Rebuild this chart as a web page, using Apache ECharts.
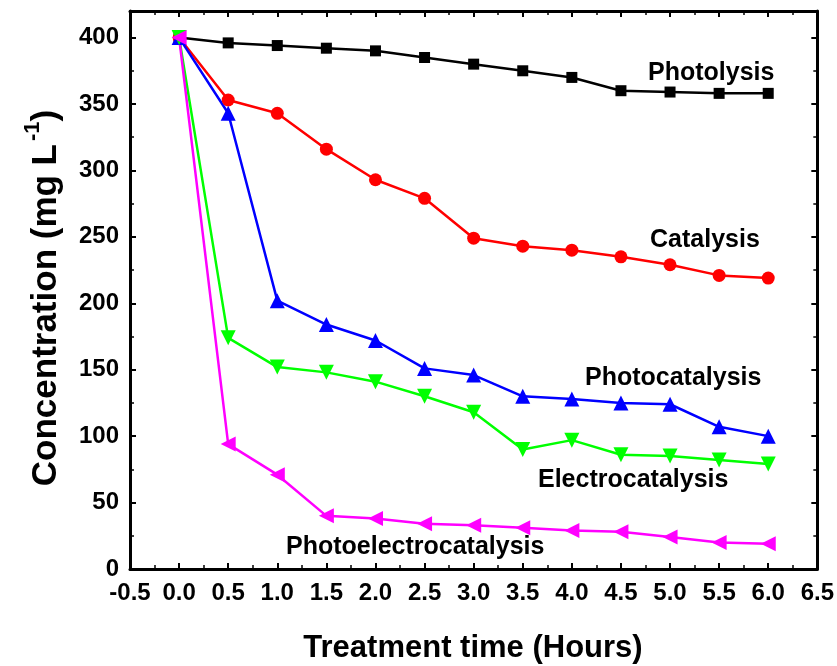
<!DOCTYPE html>
<html>
<head>
<meta charset="utf-8">
<script src="https://cdn.jsdelivr.net/npm/echarts@6/dist/echarts.min.js"></script>
<style>html,body{margin:0;padding:0;background:#fff}#c{width:837px;height:666px}</style>
</head>
<body>
<div id="c"></div>
<script>
var times = [0, 0.5, 1.0, 1.5, 2.0, 2.5, 3.0, 3.5, 4.0, 4.5, 5.0, 5.5, 6.0];
var photolysis = [400, 396, 394, 392, 390, 385, 380, 375, 370, 360, 359, 358, 358];
var catalysis = [400, 353, 343, 316, 293, 279, 249, 243, 240, 235, 229, 221, 219];
var photocatalysis = [400, 343, 202, 184, 172, 151, 146, 130, 128, 125, 124, 107, 100];
var electrocatalysis = [400, 174, 152, 148, 141, 130, 118, 90, 97, 86, 85, 82, 79];
var photoelectrocatalysis = [400, 94, 71, 40, 38, 34, 33, 31, 29, 28, 24, 20, 19];
var seriesNames = ['Photolysis', 'Catalysis', 'Photocatalysis', 'Electrocatalysis', 'Photoelectrocatalysis'];
var xTitle = 'Treatment time (Hours)';

function pairs(v) { return times.map(function (t, i) { return [t, v[i]]; }); }

var FONT = '"Liberation Sans", Arial, sans-serif';
var chart = echarts.init(document.getElementById('c'), null, { renderer: 'canvas' });

function mkSeries(name, data, color, symbol, size, rot) {
  return {
    name: name, type: 'line', data: pairs(data),
    symbol: symbol, symbolSize: size, symbolRotate: rot || 0,
    lineStyle: { color: color, width: 2.5 },
    itemStyle: { color: color },
    z: 3, animation: false
  };
}

var tickStyle = { color: '#000', width: 2 };
function axisCommon() {
  return {
    axisLine: { show: true, onZero: false, lineStyle: { color: '#000', width: 3 } },
    axisTick: { show: true, inside: true, length: 6, lineStyle: tickStyle },
    minorTick: { show: true, splitNumber: 2, length: 4, lineStyle: { color: '#000', width: 1.5 } },
    splitLine: { show: false }
  };
}
var xA = Object.assign({ type: 'value', min: -0.5, max: 6.5, interval: 0.5, position: 'bottom',
  axisLabel: { color: '#000', fontFamily: FONT, fontWeight: 'bold', fontSize: 24, margin: 12, formatter: function (v) { return v.toFixed(1); } } }, axisCommon());
var xB = Object.assign({ type: 'value', min: -0.5, max: 6.5, interval: 0.5, position: 'top', axisLabel: { show: false } }, axisCommon());
var yA = Object.assign({ type: 'value', min: 0, max: 420, interval: 50, position: 'left',
  axisLabel: { color: '#000', fontFamily: FONT, fontWeight: 'bold', fontSize: 24, margin: 11, showMaxLabel: false } }, axisCommon());
var yB = Object.assign({ type: 'value', min: 0, max: 420, interval: 50, position: 'right', axisLabel: { show: false } }, axisCommon());

var labelFont = 'bold 25px ' + FONT;
var option = {
  backgroundColor: '#fff',
  animation: false,
  grid: { left: 130, right: 19, top: 11, bottom: 97, show: false },
  xAxis: [xA, xB],
  yAxis: [yA, yB],
  series: [
    mkSeries(seriesNames[0], photolysis, '#000000', 'rect', 11),
    mkSeries(seriesNames[1], catalysis, '#ff0000', 'circle', 13),
    mkSeries(seriesNames[2], photocatalysis, '#0000ff', 'triangle', 15),
    mkSeries(seriesNames[3], electrocatalysis, '#00ff00', 'triangle', 15, 180),
    mkSeries(seriesNames[4], photoelectrocatalysis, '#ff00ff', 'triangle', 15, 90)
  ],
  graphic: [
    { type: 'text', left: 648, top: 61, style: { text: seriesNames[0], fill: '#000', font: labelFont } },
    { type: 'text', left: 650, top: 228, style: { text: seriesNames[1], fill: '#000', font: labelFont } },
    { type: 'text', left: 585, top: 366, style: { text: seriesNames[2], fill: '#000', font: labelFont } },
    { type: 'text', left: 538, top: 468, style: { text: seriesNames[3], fill: '#000', font: labelFont } },
    { type: 'text', left: 286, top: 535, style: { text: seriesNames[4], fill: '#000', font: labelFont } },
    { type: 'text', x: 473, y: 648, style: { text: xTitle, fill: '#000', font: 'bold 31px ' + FONT, align: 'center', verticalAlign: 'middle' } },
    { type: 'text', x: 43, y: 298, rotation: Math.PI / 2,
      style: {
        text: '{a|Concentration (mg L}{s|-1}{a|)}', align: 'center', verticalAlign: 'middle',
        rich: {
          a: { fill: '#000', font: 'bold 35px ' + FONT, lineHeight: 42, verticalAlign: 'bottom' },
          s: { fill: '#000', font: 'bold 22px ' + FONT, lineHeight: 42, verticalAlign: 'top', padding: [0, 0, 0, 3] }
        }
      }
    }
  ]
};
chart.setOption(option);
</script>
</body>
</html>
